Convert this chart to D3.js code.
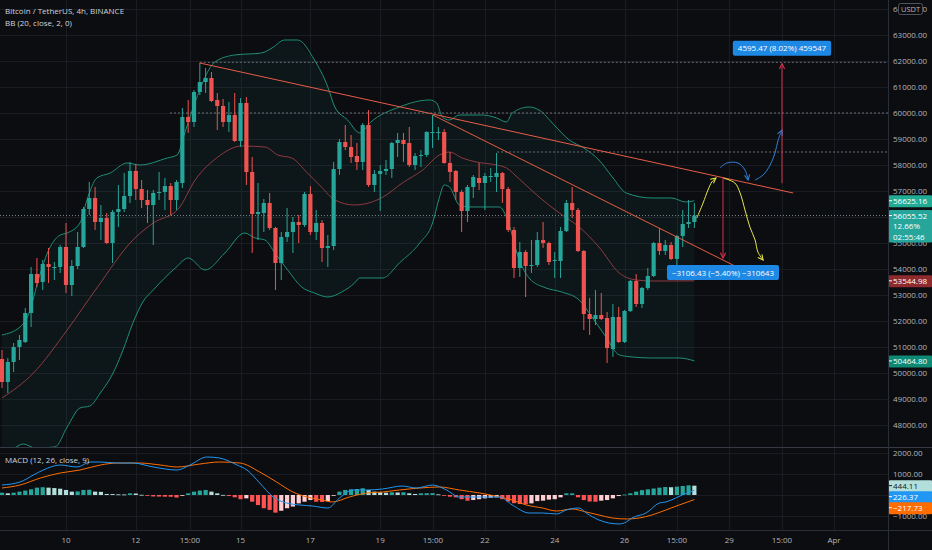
<!DOCTYPE html>
<html>
<head>
<meta charset="utf-8">
<title>BTCUSDT 4h</title>
<script src="https://d3js.org/d3.v7.min.js"></script>
<style>
    body { margin: 0; background: #0c0d10; }
    svg { font-family: "Open Sans", "Noto Sans", sans-serif; display: block; }
</style>
</head>
<body>
<svg id="chart"></svg>
<script>
// ---- data (4h candles, BTC/USDT) ----
const opens = [
50539,49654,50424,51000,51193,52308,53808,53500,54193,54050,
54077,54846,53385,54116,54846,56308,56731,55808,55962,55000,
56192,56308,56808,57770,57077,56654,56462,56923,56962,57192,
56654,57308,59846,59654,60808,61192,61346,60500,60269,59654,
59923,58923,60385,57731,56115,56154,56539,55577,54231,55231,
55423,55808,55692,56885,55423,55769,54808,54885,57846,58885,
58692,58346,58115,59539,57231,57654,57770,57846,58846,58962,
58846,58000,58346,58385,59231,59231,59269,58077,57770,56962,
56231,57154,57500,57308,57539,57539,57692,57077,55500,54039,
54654,54116,54154,55115,55000,54308,54308,55462,56539,56269,
54693,52269,52077,52231,52116,50923,52154,51193,52385,53539,
52654,53270,53731,55000,54693,54923,54385,55270,55731,55808];
const highs = [
50885,50577,51154,51462,52500,54077,54423,54346,54808,54269,
54923,55769,54346,55423,56385,57346,57154,56462,56154,56269,
57231,57692,58115,58039,57423,57039,57039,57731,57500,57308,
57423,60192,60500,60885,61923,61731,61577,60769,60538,60423,
60769,60577,60615,58308,57308,56692,56923,55616,55423,56346,
56000,56077,56962,57192,56269,55885,55308,58115,59000,59539,
59154,58846,59616,60115,57808,58000,58192,58885,59231,59231,
59462,58462,58577,59300,59923,59462,59385,58500,57808,57039,
57231,57616,58077,57692,57885,58462,57731,57154,55616,55039,
54731,55115,55423,55808,55050,54654,55616,56654,57154,56346,
54731,52885,53193,53077,52346,52654,52539,52423,53577,53808,
53308,54039,55039,55577,55115,55039,55308,56269,56654,56539];
const lows = [
49424,49231,50039,50500,51154,51770,53308,53193,53462,53577,
53846,53077,52962,54000,54808,56077,55500,55115,54962,54231,
55616,56192,56539,56654,56346,55769,54923,56654,56269,56077,
56269,57115,59231,59462,60692,60769,60423,59346,59462,59269,
58885,58692,57231,54616,55115,55423,55500,53193,53577,55039,
54616,55000,55616,55308,55115,54269,54077,54731,57616,58577,
58077,57808,57808,57154,56962,56231,57616,57500,58308,58115,
57923,57808,57923,58308,58654,58962,58050,57346,56654,55423,
55808,56731,57039,56269,57346,56962,56539,55423,53654,53692,
52923,53846,54077,54808,54154,53654,53654,55423,55962,54654,
51654,51462,51846,52039,50385,50616,51154,51154,52346,52539,
52500,53193,53692,54539,54539,54346,54116,54846,55577,55577];
const closes = [
49654,50424,51000,51270,52308,53808,53462,54193,54077,54077,
54846,53385,54116,54846,56308,56731,55808,55962,55000,56192,
56308,56808,57770,57077,56654,56462,56923,56962,57192,56654,
57346,59846,59654,60808,61192,61346,60462,60269,59654,59923,
58923,60385,57731,56115,56192,56539,55577,54231,55231,55423,
55808,55692,56885,55423,55769,54808,54885,57846,58885,58692,
58308,58115,59539,57231,57654,57770,57846,58846,58962,58808,
58000,58346,58385,59269,59269,59269,58077,57731,56962,56231,
57154,57539,57308,57577,57577,57692,57077,55500,54039,54654,
54116,54154,55115,55000,54269,54346,55462,56539,56269,54693,
52269,52077,52231,52077,50962,52154,51193,52385,53539,52654,
53270,53731,55000,54693,54923,54385,55270,55731,55808,56055.52];

// Bollinger bands, read as [candle number, price]
const bbUpper = [[1,51462],[4.1,51770],[5.3,52116],[7.6,53846],[8.8,54616],[11,55308],[12.2,55385],[14.4,55769],[15.6,56654],[17.3,57500],[19.6,57692],[22.5,58077],[24.7,58000],[29.4,58269],[31.1,58385],[32.4,59231],[34.2,60423],[37.6,61962],[41,62231],[45.6,62308],[47.4,62500],[49.6,62808],[51.8,62808],[54.7,62039],[57,61000],[58.2,60231],[60.4,59731],[62.5,59231],[64.2,59616],[69.3,60231],[74.5,60500],[75.7,60385],[76.7,59846],[77.9,59731],[79.6,59923],[83.6,59923],[86,59808],[87.7,59654],[88.7,60000],[91.6,60231],[93.3,60115],[95.9,59539],[98.5,58962],[101,58654],[103.6,58192],[105.9,57539],[108.3,56923],[112.7,56731],[116.1,56731],[118.5,56577],[120,56625]];
const bbBasis = [[1,49039],[6.4,49999],[12.2,51654],[17.3,53270],[23.5,55115],[27,55769],[31.3,56308],[34.2,57423],[38.1,58308],[42.2,58731],[46.2,58692],[48.4,58385],[50.8,58269],[53.5,57692],[55.9,57154],[58.2,56654],[61.6,56462],[66.5,56770],[69.8,57308],[73.3,57808],[76.2,58385],[77.9,58500],[80.1,58269],[82.5,58115],[86,58000],[87.7,57885],[89.9,57462],[93.3,56770],[96.8,56154],[100.2,55616],[103.6,54846],[107.1,53846],[110,53577],[112.7,53539],[116.1,53539],[120,53545]];
const bbLower = [[1,46615],[2.8,47039],[4.7,47269],[6.7,47116],[10.1,47154],[12.2,47923],[14.4,48654],[16.1,48731],[17.9,49231],[20.1,50000],[21.8,50885],[23.5,51923],[25.2,52731],[27,53193],[30.8,54039],[33,54423],[35.9,53962],[39.3,54616],[42.7,55385],[44.5,55193],[46.2,55115],[47.9,54616],[50.1,53962],[52.5,53308],[54.7,53077],[57,52923],[59.4,53116],[61.6,53462],[62.5,53654],[66.4,53654],[69.3,54231],[72.8,55000],[75,55769],[76.2,56770],[77,57231],[77.9,57154],[79.6,56462],[81.3,56385],[86.5,56385],[87.7,56000],[89.9,54346],[91.6,53654],[94.5,53270],[97.2,53116],[100.2,52808],[102.4,52154],[104.8,51385],[107.1,50693],[109.3,50616],[112.7,50577],[117.4,50577],[120,50465]];

// MACD histogram per candle, MACD and signal lines as [candle number, value]
const macdHist = [
110,80,110,160,210,270,350,370,350,330,
300,240,160,170,240,250,160,150,50,45,
30,25,80,70,10,-40,-70,-75,-80,-85,
-120,-10,80,160,210,240,160,80,5,-50,
-110,-200,-160,-320,-480,-630,-710,-840,-750,-630,
-550,-400,-320,-240,-320,-330,-300,-10,160,240,
270,285,320,240,160,130,110,130,120,130,
80,50,80,85,90,30,-5,-80,-110,-200,
-270,-240,-200,-160,-130,-110,-200,-310,-390,-430,
-440,-400,-290,-270,-220,-200,-110,80,80,-110,
-240,-310,-320,-270,-240,-160,-50,20,80,160,
230,270,310,350,380,370,400,430,460,444.11];
const macdLine = [[1,476],[4.1,619],[6.4,952],[8.1,1190],[11,1428],[13.9,1333],[16.2,1571],[17.9,1571],[20.8,1523],[23.5,1523],[27,1333],[31.1,1190],[33.3,1428],[36.2,1809],[38.4,1761],[41.4,1428],[43.1,1190],[45.3,571],[47.6,-95],[49.9,-381],[52.2,-476],[54.4,-524],[57,-619],[59,-143],[61.3,238],[63.7,238],[66.4,286],[69.8,428],[72.2,333],[75,476],[77.4,238],[79.6,-95],[86.5,-95],[88.7,-476],[91.6,-857],[93.9,-857],[96.3,-904],[98,-714],[100.2,-619],[101.4,-857],[103.6,-1190],[105.3,-1333],[107.1,-1380],[108.3,-1285],[109.3,-1095],[111.7,-857],[114,-381],[115.1,-333],[116.8,-143],[117.9,0],[120,226.37]];
const signalLine = [[1,333],[4.1,476],[7.6,809],[11,1047],[14.4,1190],[17.9,1428],[20.8,1523],[24.7,1523],[28.2,1428],[31.1,1333],[35,1476],[38.4,1571],[41.9,1523],[45.3,1095],[48.2,619],[51,143],[53.4,-95],[56.1,-238],[57.8,-333],[60.7,-95],[63.7,95],[66.4,143],[69.3,238],[72.8,333],[76.2,381],[79.6,238],[83.1,95],[86.5,-95],[88.7,-238],[91.1,-476],[93.9,-619],[96.3,-762],[99,-666],[101.4,-809],[103.6,-952],[105.9,-1095],[108.3,-1142],[110.5,-1095],[112.7,-952],[115.1,-714],[117.4,-476],[120,-217.73]];

// axes: time ticks as [days after Mar 10 00:00, label]
const timeTicks = [[0,"10"],[2,"12"],[3.55,"15:00"],[5,"15"],[7,"17"],[9,"19"],[10.51,"15:00"],[12,"22"],[14,"24"],[16,"26"],[17.5,"15:00"],[19,"29"],[20.51,"15:00"],[22,"Apr"]];
const priceTicks = [48000,49000,50000,51000,52000,53000,54000,55000,56000,57000,58000,59000,60000,61000,62000,63000,64000];
const macdTicks = [-1000,0,1000,2000];
const macdLabels = [-1000,1000,2000];   // 0.00 sits under the value tags

// drawings, in [day, price]
const trendLines = [[[3.833,61923],[20.83,56923]], [[10.51,59923],[19.22,54077]]];
const hLines = [[3.833,61950],[2.98,60000],[12.35,58500]];
const measures = [
  {day:20.51, from:57300, to:61895, label:"4595.47 (8.02%) 459547"},
  {day:18.82, from:57526, to:54420, label:"\u22123106.43 (\u22125.40%) \u2212310643"}];
const yellowCurves = [
  [[18.07,55962],[18.25,56539],[18.39,57039],[18.50,57346],[18.62,57500]],
  [[18.82,57500],[19.16,57308],[19.31,56923],[19.45,56269],[19.59,55616],[19.74,55115],[19.82,54654],[19.97,54346]]];
const blueCurves = [
  [[18.73,57885],[18.93,58077],[19.25,58077],[19.45,57808],[19.54,57423]],
  [[19.74,57423],[19.97,57616],[20.17,58000],[20.31,58462],[20.40,58962],[20.51,59346]]];

const priceMarks = [[56625.16,"#22ab94"],[53544.98,"#8f2a2e"],[50464.80,"#0e8a74"]];
const lastInfo = ["56055.52","12.66%","02:55:46"];
const macdMarks = [[444.11,"#b2dfdb","#131722"],[226.37,"#2196f3","#ffffff"],[-217.73,"#ff6d00","#ffffff"]];

// ---- layout ----
const W = 932, H = 550, plotRight = 888, priceBottom = 447, macdTop = 448, macdBottom = 530;
const BG = "#0c0d10", GRID = "#1a1c22", TXT = "#b2b5be";
const UP = "#26a69a", DOWN = "#ef5350";
const startDay = -11 / 6;   // first candle: Mar 8 04:00

const x = d3.scaleLinear().domain([0, 22]).range([66, 834]);
const yP = d3.scaleLinear().domain([48000, 63000]).range([425, 35]);
const yM = d3.scaleLinear().domain([-1000, 2000]).range([516, 453]);
const xn = n => x(startDay + (n - 1) / 6);

const svg = d3.select("#chart").attr("width", W).attr("height", H);
svg.append("rect").attr("width", W).attr("height", H).attr("fill", BG);

const defs = svg.append("defs");
defs.append("clipPath").attr("id", "clipPrice").append("rect")
    .attr("width", plotRight).attr("height", priceBottom);
defs.append("clipPath").attr("id", "clipMacd").append("rect")
    .attr("y", macdTop).attr("width", plotRight).attr("height", macdBottom - macdTop);

function marker(id, color) {
    defs.append("marker").attr("id", id)
        .attr("viewBox", "0 0 8 8").attr("refX", 7).attr("refY", 4)
        .attr("markerWidth", 7).attr("markerHeight", 7)
        .attr("markerUnits", "userSpaceOnUse").attr("orient", "auto")
        .append("path").attr("d", "M1,1 L7,4 L1,7")
        .attr("fill", "none").attr("stroke", color).attr("stroke-width", 1.2);
}
marker("arRed", "#d9304f");
marker("arYellow", "#e6e64a");
marker("arBlue", "#2f80d8");

// grid
const grid = svg.append("g").attr("shape-rendering", "crispEdges");
grid.selectAll("line.vg").data(timeTicks).join("line").attr("class", "vg")
    .attr("x1", d => Math.round(x(d[0])) + 0.5).attr("x2", d => Math.round(x(d[0])) + 0.5)
    .attr("y1", 0).attr("y2", macdBottom).attr("stroke", GRID);
grid.selectAll("line.hg").data(priceTicks).join("line").attr("class", "hg")
    .attr("x1", 0).attr("x2", plotRight)
    .attr("y1", d => Math.round(yP(d)) + 0.5).attr("y2", d => Math.round(yP(d)) + 0.5)
    .attr("stroke", GRID);
grid.selectAll("line.mg").data(macdTicks).join("line").attr("class", "mg")
    .attr("x1", 0).attr("x2", plotRight)
    .attr("y1", d => Math.round(yM(d)) + 0.5).attr("y2", d => Math.round(yM(d)) + 0.5)
    .attr("stroke", GRID);

// price pane
const pane = svg.append("g").attr("clip-path", "url(#clipPrice)");

const bandLine = d3.line().x(d => xn(d[0])).y(d => yP(d[1])).curve(d3.curveMonotoneX);
pane.append("path")
    .attr("d", d3.line().x(d => xn(d[0])).y(d => yP(d[1]))(bbUpper.concat(bbLower.slice().reverse())) + "Z")
    .attr("fill", "rgba(38,166,154,0.06)");
pane.append("path").attr("d", bandLine(bbUpper)).attr("fill", "none").attr("stroke", "#1f8f78").attr("stroke-width", 1);
pane.append("path").attr("d", bandLine(bbLower)).attr("fill", "none").attr("stroke", "#1f8f78").attr("stroke-width", 1);
pane.append("path").attr("d", bandLine(bbBasis)).attr("fill", "none").attr("stroke", "#8f3b42").attr("stroke-width", 1);

// dotted horizontal rays and last price line
pane.selectAll("line.hl").data(hLines).join("line").attr("class", "hl")
    .attr("x1", d => x(d[0])).attr("x2", plotRight)
    .attr("y1", d => yP(d[1])).attr("y2", d => yP(d[1]))
    .attr("stroke", "#6b7079").attr("stroke-dasharray", "2,2");
pane.append("line")
    .attr("x1", 0).attr("x2", plotRight)
    .attr("y1", yP(closes[closes.length - 1])).attr("y2", yP(closes[closes.length - 1]))
    .attr("stroke", "#7a8a8c").attr("stroke-dasharray", "1,2");

// candles
const candles = opens.map((o, i) => ({ o, h: highs[i], l: lows[i], c: closes[i], t: startDay + i / 6 }));
pane.selectAll("line.wick").data(candles).join("line").attr("class", "wick")
    .attr("x1", d => x(d.t)).attr("x2", d => x(d.t))
    .attr("y1", d => yP(d.h)).attr("y2", d => yP(d.l))
    .attr("stroke", d => d.c >= d.o ? UP : DOWN).attr("stroke-width", 1);
pane.selectAll("rect.body").data(candles).join("rect").attr("class", "body")
    .attr("x", d => x(d.t) - 2.1).attr("width", 4.2)
    .attr("y", d => yP(Math.max(d.o, d.c)))
    .attr("height", d => Math.max(1, Math.abs(yP(d.o) - yP(d.c))))
    .attr("fill", d => d.c >= d.o ? UP : DOWN);

// trend lines
pane.selectAll("line.tl").data(trendLines).join("line").attr("class", "tl")
    .attr("x1", d => x(d[0][0])).attr("y1", d => yP(d[0][1]))
    .attr("x2", d => x(d[1][0])).attr("y2", d => yP(d[1][1]))
    .attr("stroke", "#e85c48").attr("stroke-width", 1);

// sketched paths
const freeLine = d3.line().x(d => x(d[0])).y(d => yP(d[1])).curve(d3.curveCatmullRom);
pane.selectAll("path.yc").data(yellowCurves).join("path").attr("class", "yc")
    .attr("d", freeLine).attr("fill", "none").attr("stroke", "#e6e64a").attr("stroke-width", 1)
    .attr("marker-end", "url(#arYellow)");
pane.selectAll("path.bc").data(blueCurves).join("path").attr("class", "bc")
    .attr("d", freeLine).attr("fill", "none").attr("stroke", "#2f80d8").attr("stroke-width", 1)
    .attr("marker-end", "url(#arBlue)");

// measure arrows + labels
measures.forEach(m => {
    pane.append("line")
        .attr("x1", x(m.day)).attr("x2", x(m.day))
        .attr("y1", yP(m.from)).attr("y2", yP(m.to))
        .attr("stroke", "#d9304f").attr("stroke-width", 1)
        .attr("marker-end", "url(#arRed)");
    const up = m.to > m.from;
    const g = pane.append("g");
    const t = g.append("text")
        .attr("x", x(m.day)).attr("text-anchor", "middle")
        .attr("font-size", 8).attr("fill", "#ffffff").text(m.label);
    const tw = t.node().getComputedTextLength();
    const boxH = 15;
    const boxY = up ? yP(m.to) - 8 - boxH : yP(m.to) + 7;
    t.attr("y", boxY + 10.5);
    g.insert("rect", "text")
        .attr("x", x(m.day) - tw / 2 - 5).attr("y", boxY)
        .attr("width", tw + 10).attr("height", boxH).attr("rx", 2)
        .attr("fill", "#1e88e5");
});

// MACD pane
const mp = svg.append("g").attr("clip-path", "url(#clipMacd)");
mp.selectAll("rect.hist").data(macdHist).join("rect").attr("class", "hist")
    .attr("x", (d, i) => x(startDay + i / 6) - 2.1).attr("width", 4.2)
    .attr("y", d => Math.min(yM(d), yM(0)))
    .attr("height", d => Math.max(0.8, Math.abs(yM(d) - yM(0))))
    .attr("fill", (d, i) => {
        const prev = i > 0 ? macdHist[i - 1] : d;
        if (d >= 0) return d >= prev ? "#26a69a" : "#b2dfdb";
        return d < prev ? "#ff5252" : "#ffcdd2";
    });
const mLine = d3.line().x(d => xn(d[0])).y(d => yM(d[1])).curve(d3.curveMonotoneX);
mp.append("path").attr("d", mLine(signalLine)).attr("fill", "none").attr("stroke", "#ff6d00").attr("stroke-width", 1);
mp.append("path").attr("d", mLine(macdLine)).attr("fill", "none").attr("stroke", "#2196f3").attr("stroke-width", 1);

// separators
svg.append("line").attr("x1", 0).attr("x2", W).attr("y1", priceBottom + 0.5).attr("y2", priceBottom + 0.5)
    .attr("stroke", "#363a45");
svg.append("line").attr("x1", 0).attr("x2", W).attr("y1", macdBottom + 0.5).attr("y2", macdBottom + 0.5)
    .attr("stroke", "#2a2e39");
svg.append("line").attr("x1", plotRight + 0.5).attr("x2", plotRight + 0.5).attr("y1", 0).attr("y2", H)
    .attr("stroke", "#2a2e39");

// axis labels
const axisG = svg.append("g").attr("font-size", 8).attr("fill", TXT);
axisG.selectAll("text.pt").data(priceTicks).join("text").attr("class", "pt")
    .attr("x", 893).attr("y", d => yP(d) + 3).text(d => d3.format(".2f")(d));
axisG.selectAll("text.mt").data(macdLabels).join("text").attr("class", "mt")
    .attr("x", 893).attr("y", d => yM(d) + 3).text(d => d3.format(".2f")(d).replace("-", "\u2212"));
axisG.selectAll("text.tt").data(timeTicks).join("text").attr("class", "tt")
    .attr("x", d => x(d[0])).attr("y", 543).attr("text-anchor", "middle").text(d => d[1]);

// coloured value tags on the price axis
function tag(yc, bg, fg, lines, step) {
    const h = step * lines.length + 1;
    const g = svg.append("g");
    g.append("rect").attr("x", plotRight + 1).attr("y", yc - 5.5).attr("width", W - plotRight - 1).attr("height", h)
        .attr("fill", bg).attr("rx", 1);
    g.append("line").attr("x1", plotRight + 1).attr("x2", plotRight + 4).attr("y1", yc).attr("y2", yc)
        .attr("stroke", fg);
    lines.forEach((s, k) => {
        g.append("text").attr("x", 893).attr("y", yc + 3 + k * step)
            .attr("font-size", 8).attr("fill", fg).text(s);
    });
}
priceMarks.forEach(d => tag(yP(d[0]), d[1], "#ffffff", [d3.format(".2f")(d[0])], 11));
tag(yP(closes[closes.length - 1]), "#26a69a", "#ffffff", lastInfo, 10.5);

let prevY = -Infinity;
macdMarks.forEach(d => {
    const yc = Math.max(yM(d[0]), prevY + 11);
    prevY = yc;
    tag(yc, d[1], d[2], [d3.format(".2f")(d[0]).replace("-", "\u2212")], 11);
});

// currency button
svg.append("rect").attr("x", 898.5).attr("y", 3.5).attr("width", 24).attr("height", 11).attr("rx", 2)
    .attr("fill", BG).attr("stroke", "#50535e");
svg.append("text").attr("x", 910.5).attr("y", 11.5).attr("text-anchor", "middle")
    .attr("font-size", 7.5).attr("fill", TXT).text("USDT");

// legends
const leg = svg.append("g").attr("font-size", 8).attr("fill", "#d1d4dc");
leg.append("text").attr("x", 5).attr("y", 14).text("Bitcoin / TetherUS, 4h, BINANCE");
leg.append("text").attr("x", 5).attr("y", 26).text("BB (20, close, 2, 0)");
leg.append("text").attr("x", 5).attr("y", 463).text("MACD (12, 26, close, 9)");
</script>
</body>
</html>
